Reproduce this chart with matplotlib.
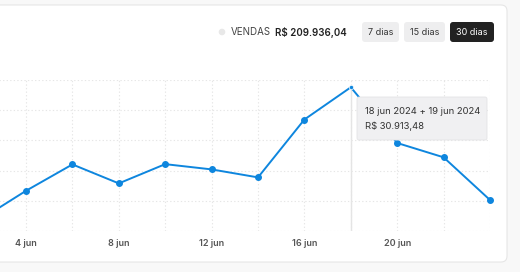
import matplotlib
matplotlib.use("Agg")
import matplotlib.pyplot as plt
from matplotlib.patches import FancyBboxPatch, Circle

plt.rcParams["font.family"] = ["Inter", "DejaVu Sans"]

# data: two-day buckets in June 2024
days = [2, 4, 6, 8, 10, 12, 14, 16, 18, 20, 22, 24]
vendas = [2360, 8650, 14320, 10240, 14380, 13250, 11530, 23980, 30913.48, 18930, 15850, 6670]
label_days = [4, 8, 12, 16, 20]
label_texts = ["4 jun", "8 jun", "12 jun", "16 jun", "20 jun"]
total_text = "R$ 209.936,04"
buttons = ["7 dias", "15 dias", "30 dias"]
tooltip_lines = ["18 jun 2024 + 19 jun 2024", "R$ 30.913,48"]
hover_day = 18

W, H = 520, 272
BLUE = "#0e86de"
fig = plt.figure(figsize=(W / 100, H / 100), dpi=100)
fig.patch.set_facecolor("#f8f8f8")


def px_axes(x0, y0, x1, y1, zorder):
    # axes placed by pixel box (top-left origin)
    return fig.add_axes([x0 / W, 1 - y1 / H, (x1 - x0) / W, (y1 - y0) / H], zorder=zorder)


# background layer: card
bg = px_axes(0, 0, W, H, 0)
bg.set_xlim(0, W)
bg.set_ylim(H, 0)
bg.axis("off")
bg.add_patch(FancyBboxPatch((-20, 5), 527, 257, boxstyle="round,pad=0,rounding_size=6",
                            facecolor="white", edgecolor="#e6e6e6", linewidth=0.8))

# chart axes (extends past the left edge of the figure)
px_per_day = 23.2
left_px, right_px = -50, 490
ax = px_axes(left_px, 80, right_px, 231, 1)
ax.patch.set_alpha(0)
ax.set_xlim(4 - (26 - left_px) / px_per_day, 24)
ax.set_ylim(0, 32480)
ax.set_xticks(range(2, 25, 2))
ax.set_xticklabels([label_texts[label_days.index(d)] if d in label_days else "" for d in range(2, 25, 2)])
ax.set_yticks([32480 / 5 * i for i in range(6)])
ax.set_yticklabels([])
ax.tick_params(length=0, pad=6, labelsize=6.5, labelcolor="#555555")
for t in ax.get_xticklabels():
    t.set_fontweight("semibold")
ax.grid(True, color="#e6e6e6", linestyle=(0, (1.2, 2)), linewidth=0.8)
for s in ax.spines.values():
    s.set_visible(False)
hv = vendas[days.index(hover_day)]
ax.axvline(hover_day, ymax=hv / 32480, color="#e4e4e4", linewidth=1.0, zorder=1)
ax.plot(days, vendas, color=BLUE, linewidth=1.4, zorder=3, clip_on=False)
mk_days = [d for d in days if d != hover_day]
mk_vals = [v for d, v in zip(days, vendas) if d != hover_day]
ax.plot(mk_days, mk_vals, linestyle="none", marker="o", markersize=4, color=BLUE,
        clip_on=False, zorder=4)
ax.plot([hover_day], [hv], linestyle="none", marker="o", markersize=3, color=BLUE,
        markeredgecolor="white", markeredgewidth=0.5, clip_on=False, zorder=4)

# foreground layer: header and tooltip
fg = px_axes(0, 0, W, H, 5)
fg.set_xlim(0, W)
fg.set_ylim(H, 0)
fg.axis("off")
fg.patch.set_alpha(0)

fg.add_patch(Circle((222, 32), 2.6, color="#e8e8e8"))
fg.text(231, 32, "VENDAS", fontsize=7, color="#444444", va="center", ha="left")
fg.text(275, 32, total_text, fontsize=7, color="#222222", fontweight="semibold", va="center", ha="left")

btn_boxes = [(362, 399), (404, 445), (450, 494)]
for (x0, x1), txt in zip(btn_boxes, buttons):
    dark = txt == "30 dias"
    fg.add_patch(FancyBboxPatch((x0, 22), x1 - x0, 20, boxstyle="round,pad=0,rounding_size=3",
                                facecolor="#222222" if dark else "#eeeeef", edgecolor="none"))
    fg.text((x0 + x1) / 2, 32.5, txt, fontsize=6.5, color="white" if dark else "#333333",
            ha="center", va="center")

fg.add_patch(FancyBboxPatch((357, 97), 130, 43, boxstyle="round,pad=0,rounding_size=2",
                            facecolor="#f0f0f2", edgecolor="#e4e4e6", linewidth=0.6))
fg.text(365, 112, tooltip_lines[0], fontsize=6.8, color="#333333", va="center", ha="left")
fg.text(365, 126, tooltip_lines[1], fontsize=6.8, color="#333333", va="center", ha="left")

fig.savefig("out.png", dpi=100, facecolor=fig.get_facecolor())
